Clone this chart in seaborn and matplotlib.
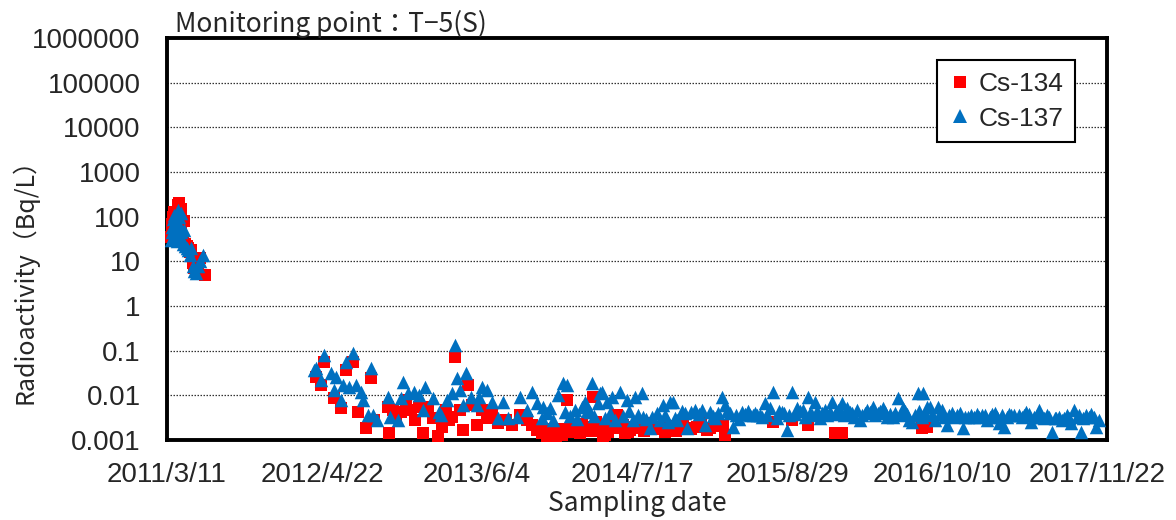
import numpy as np
import pandas as pd
import matplotlib
matplotlib.use("Agg")
import matplotlib.pyplot as plt
import seaborn as sns
from matplotlib import font_manager
from matplotlib.lines import Line2D

# ---------------- data ----------------
base_date = "2011-03-11"   # sampling date = base_date + elapsed days

# (elapsed days, Bq/L)
cs134_points = [
    (10, 35), (12, 70), (14, 50), (16, 100), (18, 130), (20, 80), (22, 60), (24, 45),
    (26, 30), (28, 40), (30, 180), (32, 200), (34, 70), (36, 150), (38, 50), (40, 35),
    (42, 28), (45, 80), (48, 25), (52, 22), (56, 20), (60, 16), (64, 18), (68, 9),
    (72, 7), (76, 6), (82, 7), (88, 12), (100, 5),
    (391, 0.026), (405, 0.017), (412, 0.056), (439, 0.0088), (457, 0.0052), (470, 0.037),
    (489, 0.056), (502, 0.0042), (523, 0.0019), (536, 0.024), (544, 0.0028), (581, 0.0055),
    (583, 0.0014), (594, 0.0047), (602, 0.0036), (615, 0.0042), (628, 0.0079), (641, 0.0047),
    (654, 0.0028), (662, 0.0055), (675, 0.0014), (688, 0.0055), (699, 0.0031), (712, 0.0012),
    (725, 0.0020), (733, 0.0047), (741, 0.0028), (751, 0.0033), (759, 0.072), (772, 0.0047),
    (780, 0.0017), (791, 0.017), (804, 0.0061), (817, 0.0022), (830, 0.0047), (843, 0.0031),
    (856, 0.0036), (870, 0.0024), (891, 0.0028), (909, 0.0022), (930, 0.0036), (948, 0.0028),
    (961, 0.0022), (975, 0.0017), (988, 0.0014), (995, 0.0018), (1001, 0.0012),
    (1006, 0.0015), (1014, 0.0013), (1020, 0.0016), (1025, 0.0012), (1035, 0.0014),
    (1040, 0.0013), (1045, 0.0018), (1053, 0.0079), (1056, 0.0017), (1062, 0.0015),
    (1067, 0.0022), (1075, 0.0019), (1082, 0.0016), (1088, 0.0014), (1093, 0.0023),
    (1098, 0.0019), (1109, 0.0020), (1115, 0.0016), (1122, 0.0092), (1128, 0.0025),
    (1135, 0.0022), (1140, 0.0018), (1148, 0.0012), (1153, 0.0013), (1160, 0.0015),
    (1166, 0.0022), (1175, 0.0019), (1185, 0.0036), (1193, 0.0019), (1200, 0.0022),
    (1206, 0.0014), (1212, 0.0015), (1219, 0.0017), (1230, 0.0020), (1245, 0.0019),
    (1255, 0.0016), (1266, 0.0022), (1275, 0.0024), (1285, 0.0019), (1295, 0.0018),
    (1311, 0.0015), (1320, 0.0021), (1332, 0.0017), (1340, 0.0016), (1348, 0.0022),
    (1358, 0.0023), (1369, 0.0019), (1380, 0.0018), (1395, 0.0020), (1405, 0.0024),
    (1422, 0.0017), (1430, 0.0019), (1450, 0.0021), (1463, 0.0022), (1469, 0.0013),
    (1595, 0.0025), (1645, 0.0028), (1687, 0.0022), (1757, 0.0014), (1776, 0.0014),
    (1986, 0.0019), (1999, 0.0020),
]

cs137_points = [
    (10, 30), (12, 60), (14, 45), (16, 90), (18, 110), (20, 70), (22, 50), (24, 40),
    (26, 28), (28, 35), (30, 140), (32, 100), (34, 60), (36, 120), (38, 45), (40, 30),
    (42, 25), (45, 50), (48, 22), (52, 20), (56, 18), (60, 14), (64, 20), (68, 8),
    (72, 6), (76, 5.5), (82, 8), (88, 10), (96, 14),
    (386, 0.037), (391, 0.041), (405, 0.022), (412, 0.079), (431, 0.032), (439, 0.013),
    (444, 0.026), (457, 0.0079), (462, 0.017), (470, 0.056), (478, 0.015), (489, 0.088),
    (497, 0.017), (510, 0.0118), (515, 0.0079), (528, 0.0036), (536, 0.041), (541, 0.0036),
    (554, 0.0028), (581, 0.0092), (588, 0.0033), (607, 0.0028), (615, 0.0088), (620, 0.020),
    (633, 0.0112), (649, 0.0118), (662, 0.0102), (675, 0.0047), (680, 0.015), (699, 0.0088),
    (715, 0.0042), (722, 0.0036), (738, 0.0079), (751, 0.0112), (759, 0.133), (764, 0.024),
    (772, 0.013), (780, 0.0061), (788, 0.032), (799, 0.0092), (817, 0.0061), (820, 0.0092),
    (830, 0.015), (843, 0.013), (856, 0.0071), (872, 0.0031), (885, 0.0071), (898, 0.0031),
    (922, 0.0033), (930, 0.0092), (948, 0.0047), (961, 0.0118), (975, 0.0067), (988, 0.0031),
    (990, 0.0055), (1000, 0.004), (1009, 0.0052), (1017, 0.0028), (1030, 0.0102),
    (1043, 0.019), (1048, 0.0042), (1053, 0.017), (1060, 0.0035), (1074, 0.0047),
    (1080, 0.003), (1093, 0.0055), (1101, 0.0071), (1105, 0.0045), (1114, 0.0042),
    (1119, 0.019), (1125, 0.0035), (1135, 0.0067), (1140, 0.0112), (1145, 0.0118),
    (1153, 0.0031), (1159, 0.0071), (1165, 0.004), (1172, 0.0092), (1180, 0.0028),
    (1193, 0.0118), (1200, 0.0035), (1211, 0.0079), (1215, 0.0045), (1227, 0.0028),
    (1232, 0.0092), (1240, 0.0036), (1250, 0.0112), (1253, 0.0033), (1262, 0.003),
    (1271, 0.0019), (1277, 0.0033), (1290, 0.004), (1298, 0.0028), (1306, 0.0061),
    (1312, 0.0036), (1319, 0.0025), (1324, 0.0071), (1332, 0.0071), (1338, 0.0031),
    (1342, 0.0028), (1355, 0.0045), (1363, 0.004), (1369, 0.0019), (1380, 0.0042),
    (1390, 0.0047), (1400, 0.0038), (1408, 0.0047), (1416, 0.0022), (1429, 0.0042),
    (1436, 0.0035), (1442, 0.0031), (1450, 0.004), (1461, 0.0092), (1469, 0.0061),
    (1475, 0.0045), (1482, 0.004), (1489, 0.0020), (1497, 0.0036), (1505, 0.003),
    (1513, 0.0042), (1520, 0.0038), (1528, 0.0045), (1534, 0.0036), (1542, 0.0036),
    (1548, 0.004), (1553, 0.0036), (1560, 0.0036), (1567, 0.0033), (1574, 0.0067),
    (1580, 0.0036), (1587, 0.0052), (1595, 0.0118), (1605, 0.0031), (1612, 0.0045),
    (1618, 0.0042), (1625, 0.004), (1631, 0.0017), (1638, 0.0036), (1645, 0.0118),
    (1652, 0.0038), (1658, 0.0052), (1665, 0.0045), (1673, 0.0047), (1679, 0.0033),
    (1687, 0.0092), (1692, 0.004), (1697, 0.0036), (1705, 0.0071), (1712, 0.0045),
    (1718, 0.0031), (1724, 0.004), (1731, 0.0047), (1738, 0.0036), (1744, 0.0042),
    (1750, 0.0071), (1757, 0.0038), (1765, 0.0047), (1770, 0.0045), (1776, 0.0067),
    (1783, 0.0036), (1789, 0.0052), (1797, 0.0042), (1803, 0.004), (1809, 0.0033),
    (1815, 0.0047), (1823, 0.0028), (1830, 0.0036), (1836, 0.004), (1842, 0.0047),
    (1850, 0.0042), (1857, 0.0055), (1864, 0.0036), (1870, 0.004), (1877, 0.0045),
    (1884, 0.0052), (1890, 0.0042), (1894, 0.0033), (1902, 0.0038), (1910, 0.0033),
    (1916, 0.004), (1923, 0.0088), (1930, 0.0036), (1936, 0.0052), (1943, 0.0045),
    (1948, 0.0038), (1954, 0.0028), (1962, 0.0025), (1968, 0.0036), (1976, 0.0112),
    (1980, 0.0045), (1986, 0.0033), (1989, 0.0112), (1994, 0.004), (1999, 0.0055),
    (2007, 0.0055), (2013, 0.0036), (2020, 0.0028), (2028, 0.0055), (2034, 0.0038),
    (2041, 0.0047), (2046, 0.0033), (2052, 0.0022), (2058, 0.0036), (2065, 0.004),
    (2072, 0.0033), (2079, 0.0036), (2086, 0.004), (2094, 0.0019), (2100, 0.0033),
    (2107, 0.0033), (2115, 0.0036), (2125, 0.0033), (2132, 0.0038), (2138, 0.0033),
    (2144, 0.0036), (2152, 0.0036), (2159, 0.0028), (2165, 0.0033), (2172, 0.0038),
    (2178, 0.004), (2185, 0.0033), (2191, 0.0024), (2198, 0.0036), (2204, 0.002),
    (2210, 0.0033), (2216, 0.0038), (2222, 0.0036), (2230, 0.0036), (2243, 0.0036),
    (2250, 0.0033), (2256, 0.0036), (2262, 0.0042), (2269, 0.0038), (2275, 0.0025),
    (2282, 0.0033), (2290, 0.0036), (2296, 0.0047), (2302, 0.0033), (2309, 0.0031),
    (2316, 0.0036), (2322, 0.0033), (2330, 0.0015), (2336, 0.0031), (2341, 0.0031),
    (2348, 0.0033), (2356, 0.0028), (2362, 0.0031), (2368, 0.0036), (2375, 0.0031),
    (2380, 0.0024), (2388, 0.0047), (2395, 0.0033), (2400, 0.0036), (2406, 0.0015),
    (2412, 0.0031), (2419, 0.0036), (2427, 0.0033), (2433, 0.0038), (2440, 0.0033),
    (2446, 0.0020), (2452, 0.0028),
]

xtick_dates = ["2011-03-11", "2012-04-22", "2013-06-04", "2014-07-17",
               "2015-08-29", "2016-10-10", "2017-11-22"]
xtick_labels = ["2011/3/11", "2012/4/22", "2013/6/4", "2014/7/17",
                "2015/8/29", "2016/10/10", "2017/11/22"]
ytick_vals = [0.001, 0.01, 0.1, 1, 10, 100, 1000, 10000, 100000, 1000000]
ytick_labels = ["0.001", "0.01", "0.1", "1", "10", "100", "1000", "10000", "100000", "1000000"]
x_start, x_end = "2011-03-11", "2017-12-18"

title_text = "Monitoring point：T−5(S)"
ylabel_text = "Radioactivity（Bq/L）"
xlabel_text = "Sampling date"


# ---------------- frames ----------------
def to_frame(points, name):
    t0 = pd.Timestamp(base_date)
    days = [p[0] for p in points]
    vals = [p[1] for p in points]
    return pd.DataFrame({"date": t0 + pd.to_timedelta(days, unit="D"),
                         "value": vals, "nuclide": name})


df134 = to_frame(cs134_points, "Cs-134")
df137 = to_frame(cs137_points, "Cs-137")

# ---------------- style ----------------
sns.set_style("white")
avail = {f.name for f in font_manager.fontManager.ttflist}
sans = "Liberation Sans" if "Liberation Sans" in avail else "DejaVu Sans"
cjk = ["Noto Sans CJK JP", "DejaVu Sans"]
plt.rcParams["font.family"] = [sans, "DejaVu Sans"]

RED = "#FF0000"
BLUE = "#0070C0"

fig = plt.figure(figsize=(11.76, 5.2), dpi=100)
ax = fig.add_axes([167 / 1176, 80 / 520, 940 / 1176, 402 / 520])

sns.scatterplot(data=df134, x="date", y="value", marker="s", color=RED, s=70,
                linewidth=0, ax=ax, legend=False, clip_on=False, zorder=3)
sns.scatterplot(data=df137, x="date", y="value", marker="^", color=BLUE, s=95,
                linewidth=0, ax=ax, legend=False, clip_on=False, zorder=4)

ax.set_yscale("log")
ax.set_ylim(ytick_vals[0], ytick_vals[-1])
ax.set_xlim(pd.Timestamp(x_start), pd.Timestamp(x_end))

ax.set_yticks(ytick_vals)
ax.set_yticklabels(ytick_labels, fontsize=20, family=sans)
ax.yaxis.set_minor_locator(matplotlib.ticker.NullLocator())
ax.set_xticks([pd.Timestamp(d) for d in xtick_dates])
ax.set_xticklabels(xtick_labels, fontsize=20, family=sans)

ax.tick_params(axis="y", direction="in", length=6, width=1, color="#555555", pad=19)
ax.tick_params(axis="x", direction="in", length=6, width=1, color="#555555", pad=16)

for yv in ytick_vals[1:-1]:
    ax.axhline(yv, color="#333333", linewidth=0.9, linestyle=(0, (1.2, 1.2)), zorder=1)

for sp in ax.spines.values():
    sp.set_visible(True)
    sp.set_color("black")
    sp.set_linewidth(2.8)

ax.set_xlabel(xlabel_text, fontsize=19, family=cjk)
ax.xaxis.set_label_coords(0.5, -0.157)
ax.xaxis.label.set_va("center")
ax.set_ylabel(ylabel_text, fontsize=18, family=cjk)
ax.yaxis.set_label_coords(-0.151, 0.41)
ax.yaxis.label.set_va("center")
ax.text(0.008, 1.0, title_text, transform=ax.transAxes, ha="left", va="bottom",
        fontsize=19, family=cjk)

handles = [Line2D([], [], marker="s", color=RED, linestyle="none", markersize=8.5,
                  markeredgewidth=0, label="Cs-134"),
           Line2D([], [], marker="^", color=BLUE, linestyle="none", markersize=9.5,
                  markeredgewidth=0, label="Cs-137")]
leg = ax.legend(handles=handles, loc="upper right", bbox_to_anchor=(0.966, 0.945),
                fontsize=19, frameon=True, fancybox=False, framealpha=1,
                edgecolor="black", labelspacing=0.4, handlelength=0.8,
                handletextpad=0.3, borderpad=0.45, borderaxespad=0)
leg.get_frame().set_linewidth(1.5)
for t in leg.get_texts():
    t.set_family(sans)

fig.savefig("out.png", dpi=100)
